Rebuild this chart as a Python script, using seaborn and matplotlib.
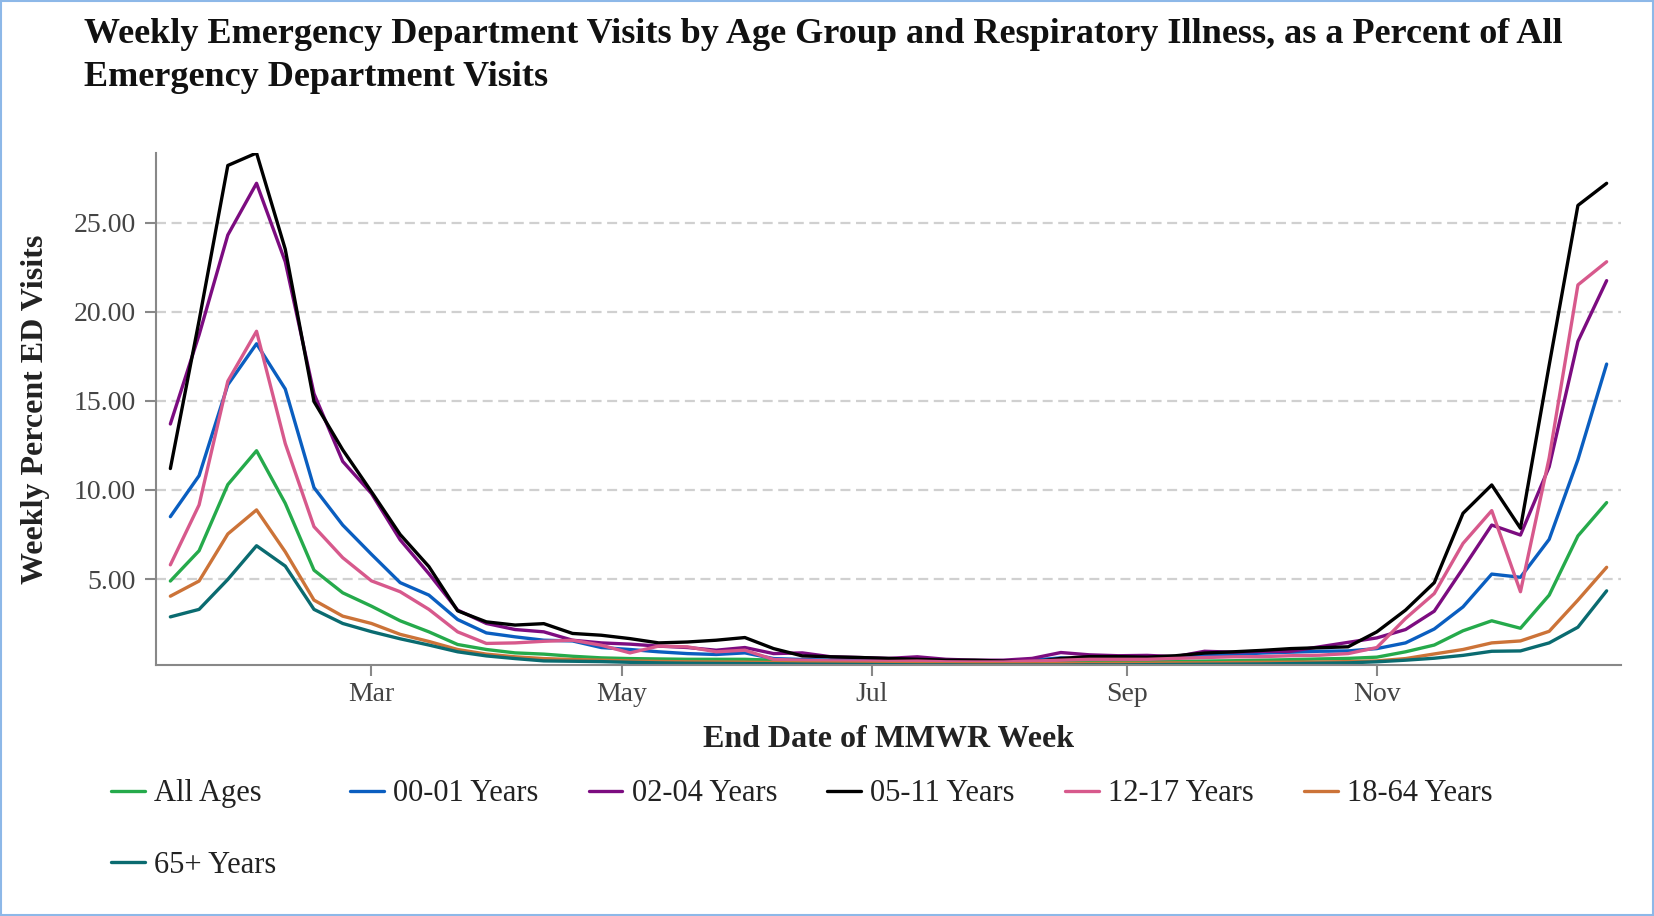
import numpy as np
import pandas as pd
import matplotlib
matplotlib.use('Agg')
import matplotlib.pyplot as plt
import matplotlib.dates as mdates
from matplotlib.patches import Rectangle
import seaborn as sns

# weekly end dates (MMWR week, Saturdays)
weeks = pd.date_range('2025-01-11', periods=51, freq='7D')

all_ages = [4.89, 6.59, 10.3, 12.2, 9.25, 5.5, 4.23, 3.48, 2.66, 2.04,
            1.33, 1.05, 0.86, 0.79, 0.67, 0.58, 0.54, 0.52, 0.5, 0.5,
            0.5, 0.45, 0.41, 0.41, 0.38, 0.36, 0.35, 0.33, 0.33, 0.32,
            0.32, 0.33, 0.34, 0.35, 0.36, 0.38, 0.4, 0.42, 0.45, 0.48,
            0.52, 0.55, 0.62, 0.92, 1.3, 2.1, 2.66, 2.24, 4.1, 7.42, 9.29]
age_00_01 = [8.5, 10.8, 15.9, 18.2, 15.66, 10.13, 8.03, 6.39, 4.8, 4.1,
             2.73, 1.98, 1.76, 1.57, 1.53, 1.16, 1.05, 0.92, 0.82, 0.77,
             0.86, 0.54, 0.49, 0.45, 0.45, 0.42, 0.5, 0.45, 0.4, 0.4,
             0.45, 0.58, 0.5, 0.5, 0.55, 0.6, 0.75, 0.77, 0.85, 0.9,
             0.95, 0.97, 1.1, 1.42, 2.2, 3.44, 5.28, 5.1, 7.23, 11.7, 17.06]
age_02_04 = [13.7, 18.7, 24.3, 27.2, 22.8, 15.4, 11.6, 9.8, 7.2, 5.3,
             3.26, 2.51, 2.17, 2.04, 1.57, 1.42, 1.35, 1.24, 1.16, 1.01,
             1.16, 0.82, 0.86, 0.64, 0.6, 0.55, 0.64, 0.5, 0.45, 0.45,
             0.55, 0.88, 0.75, 0.7, 0.72, 0.65, 0.95, 0.9, 0.95, 0.95,
             1.2, 1.45, 1.7, 2.17, 3.2, 5.6, 8.03, 7.47, 11.3, 18.33, 21.74]
age_05_11 = [11.2, 19.5, 28.2, 28.9, 23.5, 14.96, 12.25, 9.9, 7.5, 5.7,
             3.22, 2.6, 2.42, 2.5, 1.95, 1.85, 1.66, 1.42, 1.47, 1.57,
             1.72, 1.1, 0.69, 0.64, 0.6, 0.55, 0.5, 0.45, 0.45, 0.4,
             0.35, 0.55, 0.65, 0.65, 0.62, 0.7, 0.85, 0.92, 1.0, 1.1,
             1.15, 1.2, 2.04, 3.26, 4.8, 8.69, 10.28, 7.85, 17.0, 25.96, 27.2]
age_12_17 = [5.8, 9.16, 16.1, 18.9, 12.6, 7.94, 6.2, 4.9, 4.29, 3.3,
             2.04, 1.39, 1.42, 1.51, 1.57, 1.29, 0.86, 1.24, 1.2, 0.92,
             1.01, 0.49, 0.45, 0.41, 0.4, 0.38, 0.4, 0.36, 0.35, 0.35,
             0.4, 0.45, 0.5, 0.5, 0.5, 0.55, 0.6, 0.64, 0.65, 0.7,
             0.73, 0.82, 1.16, 2.79, 4.19, 7.0, 8.84, 4.29, 11.8, 21.5, 22.8]
age_18_64 = [4.04, 4.89, 7.53, 8.88, 6.53, 3.82, 2.92, 2.51, 1.9, 1.5,
             1.05, 0.79, 0.64, 0.54, 0.49, 0.45, 0.41, 0.38, 0.36, 0.35,
             0.34, 0.32, 0.3, 0.29, 0.28, 0.27, 0.26, 0.25, 0.25, 0.25,
             0.25, 0.26, 0.27, 0.28, 0.28, 0.3, 0.3, 0.32, 0.33, 0.34,
             0.35, 0.37, 0.41, 0.54, 0.8, 1.05, 1.42, 1.53, 2.07, 3.82, 5.66]
age_65_plus = [2.88, 3.3, 4.98, 6.87, 5.73, 3.3, 2.51, 2.05, 1.65, 1.3,
               0.92, 0.69, 0.54, 0.41, 0.39, 0.37, 0.33, 0.3, 0.28, 0.27,
               0.26, 0.25, 0.23, 0.22, 0.21, 0.2, 0.19, 0.19, 0.18, 0.18,
               0.18, 0.18, 0.19, 0.19, 0.2, 0.21, 0.22, 0.23, 0.24, 0.26,
               0.28, 0.3, 0.36, 0.45, 0.56, 0.72, 0.95, 0.97, 1.42, 2.3, 4.34]

groups = ['All Ages', '00-01 Years', '02-04 Years', '05-11 Years',
          '12-17 Years', '18-64 Years', '65+ Years']
series = [all_ages, age_00_01, age_02_04, age_05_11, age_12_17, age_18_64, age_65_plus]
colors = ['#25aa4b', '#0a5ec0', '#7c0c80', '#000000', '#d7598c', '#cc7338', '#0a6b70']

df = pd.concat([pd.DataFrame({'week': weeks, 'pct': v, 'group': g})
                for g, v in zip(groups, series)], ignore_index=True)

sns.set_theme(style='white')
plt.rcParams['font.family'] = ['Liberation Serif', 'DejaVu Serif']

fig = plt.figure(figsize=(16.54, 9.16), dpi=100)
ax = fig.add_axes([156/1654, 1-665/916, (1621-156)/1654, (665-153)/916])

sns.lineplot(data=df, x='week', y='pct', hue='group', hue_order=groups,
             palette=dict(zip(groups, colors)), linewidth=2.4, ax=ax)

leg = ax.get_legend()
handles = leg.legend_handles
labels = [t.get_text() for t in leg.get_texts()]
leg.remove()

ax.set_ylim(df['pct'].min(), df['pct'].max())
ax.set_xlim(weeks[0] - pd.Timedelta(days=3.5), weeks[-1] + pd.Timedelta(days=3.5))
ax.set_yticks([5, 10, 15, 20, 25])
ax.yaxis.set_major_formatter(matplotlib.ticker.FormatStrFormatter('%.2f'))
ax.xaxis.set_major_locator(mdates.MonthLocator(bymonth=[1, 3, 5, 7, 9, 11]))
ax.xaxis.set_major_formatter(mdates.DateFormatter('%b'))

ax.grid(axis='y', color='#d0d0d0', linestyle=(0, (4.5, 2.5)), linewidth=1.6)
ax.grid(axis='x', visible=False)
for s in ['top', 'right']:
    ax.spines[s].set_visible(False)
for s in ['left', 'bottom']:
    ax.spines[s].set_color('#888888')
    ax.spines[s].set_linewidth(1.5)
ax.tick_params(axis='both', which='major', length=8, width=1.5, color='#888888',
               labelsize=20, labelcolor='#444444', left=True, bottom=True)
ax.tick_params(axis='y', pad=6.5)
ax.tick_params(axis='x', pad=4)

ax.set_xlabel('End Date of MMWR Week', fontsize=23, fontweight='bold', color='#222222', labelpad=13)
ax.set_ylabel('Weekly Percent ED Visits', fontsize=23, fontweight='bold', color='#222222', labelpad=17)

fig.text(84/1654, 1-18/916,
         'Weekly Emergency Department Visits by Age Group and Respiratory Illness, as a Percent of All\n'
         'Emergency Department Visits',
         fontsize=26, fontweight='bold', va='top', ha='left', color='#111111', linespacing=1.42)

# legend: first column holds the wrapped 7th entry, the other five sit in one row
leg_kw = dict(loc='upper left', frameon=False, fontsize=22, handlelength=1.1,
              handletextpad=0.3, columnspacing=1.65, labelspacing=1.4,
              borderaxespad=0, labelcolor='#222222')
fig.legend([handles[0], handles[6]], [labels[0], labels[6]], ncol=1,
           bbox_to_anchor=(99/1654, 1-767/916), **leg_kw)
fig.legend(handles[1:6], labels[1:6], ncol=5,
           bbox_to_anchor=(338/1654, 1-767/916), **leg_kw)

fig.patches.append(Rectangle((0.0005, 0.001), 0.999, 0.998, transform=fig.transFigure,
                             fill=False, edgecolor='#8db8e8', linewidth=1.5))

fig.savefig('out.png', dpi=100)
